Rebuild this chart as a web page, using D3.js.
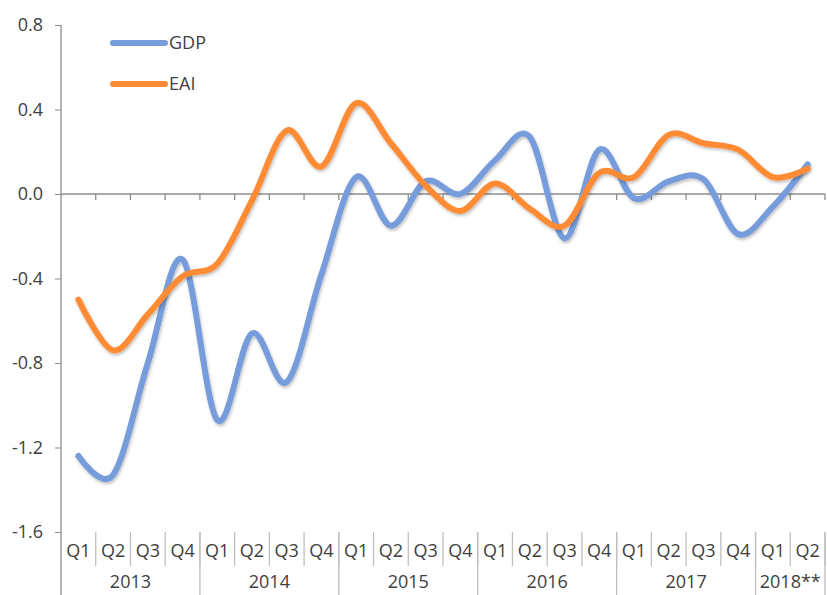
<!DOCTYPE html>
<html>
<head>
<meta charset="utf-8">
<script src="https://cdn.jsdelivr.net/npm/d3@7"></script>
<style>
  body { margin: 0; background: #fff; }
  text { font-family: "Open Sans", "Liberation Sans", sans-serif; fill: #404040; }
</style>
</head>
<body>
<div id="chart"></div>
<script>
const years = ["2013", "2014", "2015", "2016", "2017", "2018**"]
const quartersPerYear = [4, 4, 4, 4, 4, 2]
const quarters = ["Q1", "Q2", "Q3", "Q4"]
const gdp = [-1.24, -1.33, -0.80, -0.31, -1.07, -0.66, -0.89, -0.38, 0.08, -0.15, 0.06, 0.00,
             0.16, 0.27, -0.21, 0.21, -0.02, 0.06, 0.07, -0.19, -0.06, 0.14]
const eai = [-0.50, -0.74, -0.57, -0.39, -0.33, -0.03, 0.30, 0.13, 0.43, 0.24, 0.04, -0.08,
             0.05, -0.07, -0.15, 0.10, 0.08, 0.28, 0.24, 0.21, 0.08, 0.12]
const yTicks = [0.8, 0.4, 0.0, -0.4, -0.8, -1.2, -1.6]

const width = 827
const height = 595
const margin = {top: 25, right: 2, bottom: 63, left: 61}
const fontSize = "18px"

// one entry per quarter
const cats = []
years.forEach((yr, i) => {
    for (let q = 0; q < quartersPerYear[i]; q++) cats.push({year: yr, q: quarters[q], key: yr + quarters[q]})
})

const svg = d3.select("#chart").append("svg")
    .attr("width", width)
    .attr("height", height)

const defs = svg.append("defs")
const f = defs.append("filter").attr("id", "shadow").attr("x", "-5%").attr("y", "-5%").attr("width", "110%").attr("height", "110%")
f.append("feDropShadow").attr("dx", 1).attr("dy", 2).attr("stdDeviation", 1.5)
    .attr("flood-color", "#000").attr("flood-opacity", 0.25)

const x = d3.scaleBand()
    .domain(cats.map(c => c.key))
    .range([margin.left, width - margin.right])

const y = d3.scaleLinear()
    .domain([-1.6, 0.8])
    .range([height - margin.bottom, margin.top])

const axisColor = "#8c8c8c"

// y axis
svg.append("g")
    .attr("transform", "translate(" + margin.left + ",0)")
    .call(d3.axisLeft(y).tickValues(yTicks).tickFormat(d => d.toFixed(1)).tickSize(6).tickPadding(12))
    .call(g => g.select(".domain").remove())
    .call(g => g.selectAll(".tick line").attr("stroke", axisColor))
    .call(g => g.selectAll(".tick text").style("font-size", fontSize).attr("fill", "#404040")
        .style("font-family", "'Open Sans', 'Liberation Sans', sans-serif"))

svg.append("line")
    .attr("x1", margin.left).attr("x2", margin.left)
    .attr("y1", y(0.8)).attr("y2", height)
    .attr("stroke", axisColor).attr("stroke-width", 1.3)

// zero line with category ticks
svg.append("line")
    .attr("x1", margin.left).attr("x2", width - margin.right)
    .attr("y1", y(0)).attr("y2", y(0))
    .attr("stroke", axisColor).attr("stroke-width", 1.3)

svg.append("g").selectAll("line")
    .data(cats.slice(1).concat([null]))
    .enter().append("line")
    .attr("x1", (d, i) => x(cats[0].key) + (i + 1) * x.bandwidth())
    .attr("x2", (d, i) => x(cats[0].key) + (i + 1) * x.bandwidth())
    .attr("y1", y(0)).attr("y2", y(0) + 6)
    .attr("stroke", axisColor).attr("stroke-width", 1.3)

// category labels at bottom
const baseY = y(-1.6)
const labels = svg.append("g")
labels.selectAll("text.q")
    .data(cats)
    .enter().append("text")
    .attr("class", "q")
    .attr("x", d => x(d.key) + x.bandwidth() / 2)
    .attr("y", baseY + 25)
    .attr("text-anchor", "middle")
    .style("font-size", fontSize)
    .text(d => d.q)

labels.selectAll("line.qsep")
    .data(cats.slice(1).concat([null]))
    .enter().append("line")
    .attr("class", "qsep")
    .attr("x1", (d, i) => x(cats[0].key) + (i + 1) * x.bandwidth())
    .attr("x2", (d, i) => x(cats[0].key) + (i + 1) * x.bandwidth())
    .attr("y1", baseY).attr("y2", baseY + 34)
    .attr("stroke", "#bfbfbf").attr("stroke-width", 1.3)

let start = 0
years.forEach((yr, i) => {
    const x0 = x(cats[start].key)
    const x1 = x(cats[start + quartersPerYear[i] - 1].key) + x.bandwidth()
    labels.append("text")
        .attr("x", (x0 + x1) / 2)
        .attr("y", baseY + 56)
        .attr("text-anchor", "middle")
        .style("font-size", fontSize)
        .text(yr)
    labels.append("line")
        .attr("x1", x1).attr("x2", x1)
        .attr("y1", baseY).attr("y2", height)
        .attr("stroke", "#bfbfbf").attr("stroke-width", 1.3)
    start += quartersPerYear[i]
})

// series
const series = [
    {name: "GDP", values: gdp, color: "#779cdb"},
    {name: "EAI", values: eai, color: "#ff8b35"}
]

const line = d3.line()
    .x((d, i) => x(cats[i].key) + x.bandwidth() / 2)
    .y(d => y(d))
    .curve(d3.curveCardinal.tension(0))

series.forEach(s => {
    svg.append("path")
        .datum(s.values)
        .attr("d", line)
        .attr("fill", "none")
        .attr("stroke", s.color)
        .attr("stroke-width", 6)
        .attr("stroke-linecap", "round")
        .attr("stroke-linejoin", "round")
        .attr("filter", "url(#shadow)")
})

// legend
const legend = svg.append("g")
series.forEach((s, i) => {
    const ly = 43 + i * 41
    legend.append("line")
        .attr("x1", 113).attr("x2", 165)
        .attr("y1", ly).attr("y2", ly)
        .attr("stroke", s.color)
        .attr("stroke-width", 6)
        .attr("stroke-linecap", "round")
    legend.append("text")
        .attr("x", 169)
        .attr("y", ly + 6)
        .style("font-size", fontSize)
        .text(s.name)
})
</script>
</body>
</html>
